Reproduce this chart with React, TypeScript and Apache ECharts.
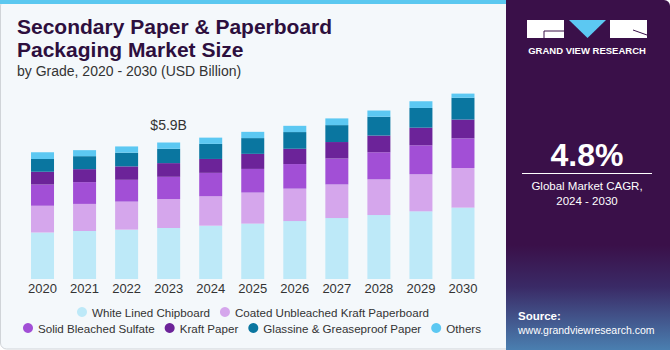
import React, { useEffect, useRef } from "react";
import * as echarts from "echarts";

const years = ["2020", "2021", "2022", "2023", "2024", "2025", "2026", "2027", "2028", "2029", "2030"];
const whiteLined = [2.01, 2.07, 2.13, 2.2, 2.3, 2.39, 2.5, 2.63, 2.76, 2.92, 3.08];
const coatedKraft = [1.15, 1.17, 1.21, 1.25, 1.27, 1.34, 1.4, 1.45, 1.54, 1.6, 1.71];
const solidBleached = [0.92, 0.94, 0.94, 0.96, 1.01, 1.02, 1.06, 1.12, 1.17, 1.25, 1.28];
const kraftPaper = [0.55, 0.56, 0.58, 0.59, 0.6, 0.65, 0.66, 0.71, 0.72, 0.76, 0.81];
const glassine = [0.55, 0.56, 0.59, 0.62, 0.65, 0.68, 0.72, 0.73, 0.81, 0.85, 0.94];
const others = [0.29, 0.26, 0.27, 0.27, 0.27, 0.27, 0.27, 0.29, 0.27, 0.29, 0.29];
const seriesNames = [
  "White Lined Chipboard",
  "Coated Unbleached Kraft Paperboard",
  "Solid Bleached Sulfate",
  "Kraft Paper",
  "Glassine & Greaseproof Paper",
  "Others",
];
const seriesValues = [whiteLined, coatedKraft, solidBleached, kraftPaper, glassine, others];
const seriesColors = ["#bde9f8", "#d5a6ec", "#a24fd6", "#6c2399", "#0a76a0", "#5cc8f2"];
const annotatedYear = "2023";
const annotation = "$5.9B";

export default function App() {
  const ref = useRef<HTMLDivElement>(null);
  useEffect(() => {
    document.body.style.margin = "0";
    const chart = echarts.init(ref.current!, null, { renderer: "svg" });
    const font = "Liberation Sans, Arial, sans-serif";
    const series = seriesNames.map((name, i) => ({
      name,
      type: "bar",
      stack: "total",
      barWidth: 23,
      itemStyle: { color: seriesColors[i] },
      data: seriesValues[i].map((v, j) =>
        i === seriesNames.length - 1 && years[j] === annotatedYear
          ? {
              value: v,
              label: {
                show: true,
                position: "top",
                distance: 10,
                formatter: annotation,
                fontSize: 14,
                color: "#333",
                fontFamily: font,
              },
            }
          : v
      ),
    }));
    const legendCommon = {
      itemWidth: 10,
      itemHeight: 10,
      itemGap: 10,
      icon: "circle",
      textStyle: { fontSize: 11.6, color: "#333", fontFamily: font },
      selectedMode: false,
      padding: 0,
    };
    chart.setOption({
      animation: false,
      backgroundColor: "transparent",
      legend: [
        { ...legendCommon, data: seriesNames.slice(0, 2), top: 306, left: 77 },
        { ...legendCommon, data: seriesNames.slice(2), top: 322, left: 23 },
      ],
      grid: { left: 21.5, width: 462.5, top: 93.6, bottom: 71, containLabel: false },
      xAxis: {
        type: "category",
        data: years,
        axisLine: { show: false },
        axisTick: { show: false },
        axisLabel: { fontSize: 13, color: "#333", margin: 3, fontFamily: font },
      },
      yAxis: { type: "value", min: 0, max: 8, show: false, splitLine: { show: false } },
      graphic: [
        { type: "rect", z: -10, shape: { x: 0.5, y: 0, width: 520, height: 349, r: 6 }, style: { fill: "#f4f8fb", stroke: "#d0d4d8", lineWidth: 1 } },
        { type: "rect", z: -9, shape: { x: 0, y: 0, width: 520, height: 4 }, style: { fill: "#5bc8f0" } },
        {
          type: "rect",
          z: -5,
          shape: { x: 506, y: 0, width: 164, height: 350, r: [0, 6, 0, 0] },
          style: {
            fill: new echarts.graphic.LinearGradient(0, 0, 0, 1, [
              { offset: 0, color: "#3a1049" },
              { offset: 0.7, color: "#3a1049" },
              { offset: 0.82, color: "#3a2a66" },
              { offset: 1, color: "#4a7fb0" },
            ]),
          },
        },
        {
          type: "text",
          left: 17,
          top: 15,
          style: {
            text: "Secondary Paper & Paperboard\nPackaging Market Size",
            font: "bold 21px " + font,
            lineHeight: 23,
            fill: "#2d0f3e",
          },
        },
        { type: "text", left: 17, top: 64, style: { text: "by Grade, 2020 - 2030 (USD Billion)", font: "14px " + font, fill: "#333" } },
        // logo
        { type: "rect", shape: { x: 527, y: 20, width: 37, height: 18 }, style: { fill: "#ffffff" } },
        { type: "line", shape: { x1: 544, y1: 31, x2: 564, y2: 31 }, style: { stroke: "#3a1049", lineWidth: 1 } },
        { type: "line", shape: { x1: 544, y1: 31, x2: 544, y2: 38 }, style: { stroke: "#3a1049", lineWidth: 1 } },
        { type: "polygon", shape: { points: [[569, 20], [606, 20], [587.5, 38]] }, style: { fill: "#5cc8f2" } },
        { type: "rect", shape: { x: 610, y: 20, width: 37, height: 18 }, style: { fill: "#ffffff" } },
        { type: "line", shape: { x1: 633, y1: 30, x2: 647, y2: 35 }, style: { stroke: "#3a1049", lineWidth: 1 } },
        { type: "text", x: 587, y: 50, style: { text: "GRAND VIEW RESEARCH", font: "bold 9.5px " + font, fill: "#ffffff", align: "center", verticalAlign: "middle" } },
        { type: "text", x: 587, y: 155, style: { text: "4.8%", font: "bold 32px " + font, fill: "#ffffff", align: "center", verticalAlign: "middle" } },
        { type: "line", shape: { x1: 522, y1: 173.5, x2: 652, y2: 173.5 }, style: { stroke: "#ffffff", lineWidth: 1 } },
        { type: "text", x: 587, y: 186, style: { text: "Global Market CAGR,", font: "11.5px " + font, fill: "#ffffff", align: "center", verticalAlign: "middle" } },
        { type: "text", x: 587, y: 201, style: { text: "2024 - 2030", font: "11.5px " + font, fill: "#ffffff", align: "center", verticalAlign: "middle" } },
        { type: "text", x: 518, y: 316, style: { text: "Source:", font: "bold 11.5px " + font, fill: "#ffffff", verticalAlign: "middle" } },
        { type: "text", x: 518, y: 330, style: { text: "www.grandviewresearch.com", font: "10.5px " + font, fill: "#ffffff", verticalAlign: "middle" } },
      ],
      series,
    });
    return () => chart.dispose();
  }, []);
  return <div ref={ref} style={{ width: 670, height: 350 }} />;
}
